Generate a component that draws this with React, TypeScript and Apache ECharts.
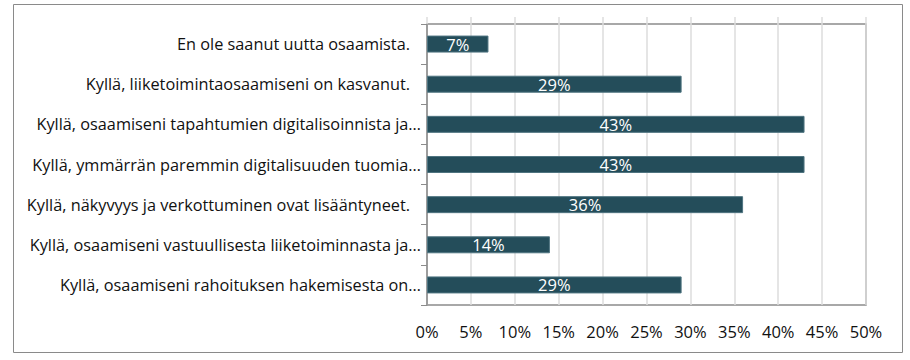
import React, { useEffect, useRef } from "react";
import * as echarts from "echarts";

const categories = [
  "En ole saanut uutta osaamista.",
  "Kyllä, liiketoimintaosaamiseni on kasvanut.",
  "Kyllä, osaamiseni tapahtumien digitalisoinnista ja…",
  "Kyllä, ymmärrän paremmin digitalisuuden tuomia…",
  "Kyllä, näkyvyys ja verkottuminen ovat lisääntyneet.",
  "Kyllä, osaamiseni vastuullisesta liiketoiminnasta ja…",
  "Kyllä, osaamiseni rahoituksen hakemisesta on…",
];
const values = [7, 29, 43, 43, 36, 14, 29];
const axisMin = 0;
const axisMax = 50;
const axisStep = 5;

const FONT = "Open Sans";

export default function App() {
  const ref = useRef<HTMLDivElement>(null);
  useEffect(() => {
    document.body.style.margin = "0";
    if (!ref.current) return;
    const chart = echarts.init(ref.current, undefined, { renderer: "svg" });
    chart.setOption({
      animation: false,
      textStyle: { fontFamily: FONT },
      graphic: [
        {
          type: "rect",
          shape: { x: 13.5, y: 4.5, width: 889, height: 348 },
          style: { fill: "none", stroke: "#8a8a8a", lineWidth: 1 },
          silent: true,
          z: -10,
        },
      ],
      grid: {
        left: 427,
        top: 24,
        right: 44,
        bottom: 55,
        show: true,
        borderColor: "#8c8c8c",
        borderWidth: 1.5,
        backgroundColor: "transparent",
      },
      xAxis: [
        {
          type: "value",
          min: axisMin,
          max: axisMax,
          interval: axisStep,
          position: "bottom",
          axisLine: { show: false },
          axisTick: { show: false },
          splitLine: { show: true, lineStyle: { color: "#dcdcdc", width: 1.5 } },
          axisLabel: {
            formatter: "{value}%",
            fontFamily: FONT,
            fontSize: 16.5,
            color: "#111",
            margin: 18,
          },
        },
        {
          type: "value",
          min: axisMin,
          max: axisMax,
          interval: axisStep,
          position: "top",
          axisLine: { show: false },
          axisTick: { show: true, length: 7, lineStyle: { color: "#dcdcdc", width: 1.5 } },
          splitLine: { show: false },
          axisLabel: { show: false },
        },
      ],
      yAxis: {
        type: "category",
        data: categories,
        inverse: true,
        axisLine: { show: true, lineStyle: { color: "#8c8c8c", width: 1.5 } },
        axisTick: { show: true, length: 6, lineStyle: { color: "#8c8c8c", width: 1 } },
        axisLabel: {
          margin: 6,
          fontFamily: FONT,
          fontSize: 16.3,
          color: "#111",
          formatter: (v: string) => (v.endsWith("…") ? v : "{p|" + v + "}"),
          rich: {
            p: { padding: [0, 11, 0, 0], fontFamily: FONT, fontSize: 16.3, color: "#111" },
          },
        },
      },
      series: [
        {
          type: "bar",
          xAxisIndex: 0,
          data: values,
          barWidth: 17,
          itemStyle: { color: "#244d5a", borderColor: "#4f7480", borderWidth: 1 },
          label: {
            show: true,
            position: "inside",
            formatter: "{c}%",
            color: "#fff",
            fontFamily: FONT,
            fontSize: 16.5,
          },
        },
      ],
    });
    return () => chart.dispose();
  }, []);
  return <div ref={ref} style={{ width: 910, height: 360 }} />;
}
